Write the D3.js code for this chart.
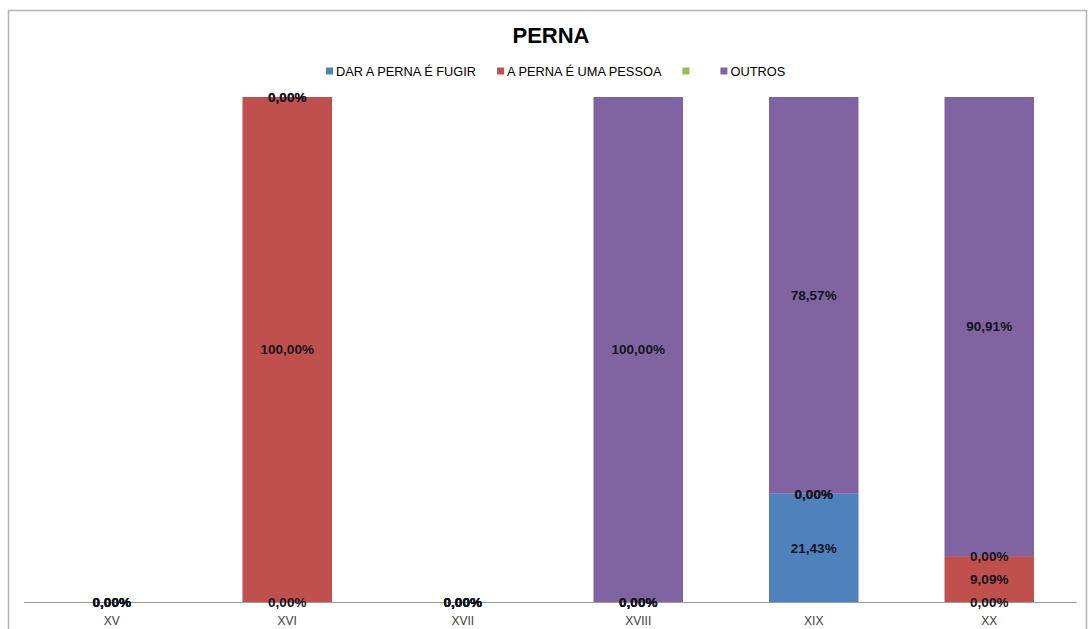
<!DOCTYPE html>
<html>
<head>
<meta charset="utf-8">
<script src="https://cdn.jsdelivr.net/npm/d3@7"></script>
<style>
  html, body { margin: 0; padding: 0; background: #fff; }
  svg { display: block; }
  text { font-family: "Liberation Sans", Arial, sans-serif; }
</style>
</head>
<body>
<svg id="chart" width="1089" height="629"></svg>
<script>
// Séculos (categorias do eixo X)
const centuries = ["XV", "XVI", "XVII", "XVIII", "XIX", "XX"];

// Séries (percentagens por século)
const seriesNames = ["DAR A PERNA É FUGIR", "A PERNA É UMA PESSOA", "", "OUTROS"];
const darAPernaEFugir   = [0, 0, 0, 0, 21.43, 0];
const aPernaEUmaPessoa  = [0, 100, 0, 0, 0, 9.09];
const semNome           = [0, 0, 0, 0, 0, 0];
const outros            = [0, 0, 0, 100, 78.57, 90.91];

const seriesColors = ["#4F81BD", "#C0504D", "#9BBB59", "#8064A2"];
const chartTitle = "PERNA";

const seriesValues = [darAPernaEFugir, aPernaEUmaPessoa, semNome, outros];
const keys = seriesNames.map((_, i) => "s" + i);
const rows = centuries.map((c, j) => {
  const r = { century: c };
  keys.forEach((k, i) => { r[k] = seriesValues[i][j]; });
  return r;
});

const svg = d3.select("#chart");
const W = 1089, H = 629;

// moldura exterior
svg.append("rect")
  .attr("x", 8.5).attr("y", 10.5)
  .attr("width", 1078).attr("height", H)
  .attr("fill", "#fff")
  .attr("stroke", "#b4b4b4").attr("stroke-width", 1.5);

const plot = { left: 24, right: 1077, top: 97, bottom: 602 };

const x = d3.scaleBand()
  .domain(centuries)
  .range([plot.left, plot.right])
  .paddingInner(0.49)
  .paddingOuter(0.245);

const y = d3.scaleLinear().domain([0, 100]).range([plot.bottom, plot.top]);

const stacked = d3.stack().keys(keys)(rows);

// barras
const layers = svg.append("g").selectAll("g")
  .data(stacked)
  .join("g")
  .attr("fill", (d, i) => seriesColors[i]);

layers.selectAll("rect")
  .data(d => d.filter(s => s[1] - s[0] > 0))
  .join("rect")
  .attr("x", d => x(d.data.century))
  .attr("width", x.bandwidth())
  .attr("y", d => y(d[1]))
  .attr("height", d => y(d[0]) - y(d[1]));

// eixo das categorias
const axis = d3.axisBottom(x).tickSize(0).tickPadding(14);
const gAxis = svg.append("g")
  .attr("transform", `translate(0,${plot.bottom})`)
  .call(axis);
gAxis.select(".domain").attr("stroke", "#9a9a9a").attr("stroke-width", 1.2)
  .attr("d", `M${plot.left},0.5H${plot.right}`);
gAxis.selectAll(".tick text")
  .attr("font-size", 12)
  .attr("fill", "#404040")
  .style("font-family", '"Liberation Sans", Arial, sans-serif');

// rótulos de dados
const fmt = v => d3.format(".2f")(v).replace(".", ",") + "%";
const labels = svg.append("g");
stacked.forEach(layer => {
  labels.selectAll(null)
    .data(layer)
    .join("text")
    .attr("x", d => x(d.data.century) + x.bandwidth() / 2)
    .attr("y", d => (y(d[0]) + y(d[1])) / 2)
    .attr("dy", "0.36em")
    .attr("text-anchor", "middle")
    .attr("font-size", 13.5)
    .attr("font-weight", "bold")
    .attr("fill", "#141420")
    .text(d => fmt(d.data[layer.key]));
});

// título
svg.append("text")
  .attr("x", 551).attr("y", 43)
  .attr("text-anchor", "middle")
  .attr("font-size", 22)
  .attr("font-weight", "bold")
  .attr("fill", "#000")
  .text(chartTitle);

// legenda
const legend = svg.append("g").attr("transform", "translate(0,71)");
let lx = 326;
seriesNames.forEach((name, i) => {
  const g = legend.append("g").attr("transform", `translate(${lx},0)`);
  g.append("rect")
    .attr("x", 0).attr("y", -3.5)
    .attr("width", 7).attr("height", 7)
    .attr("fill", seriesColors[i]);
  const t = g.append("text")
    .attr("x", 10).attr("y", 0)
    .attr("dy", "0.36em")
    .attr("font-size", 12.8)
    .attr("fill", "#000")
    .text(name);
  const w = name ? t.node().getComputedTextLength() : 7;
  lx += 10 + w + 21;
});
</script>
</body>
</html>
